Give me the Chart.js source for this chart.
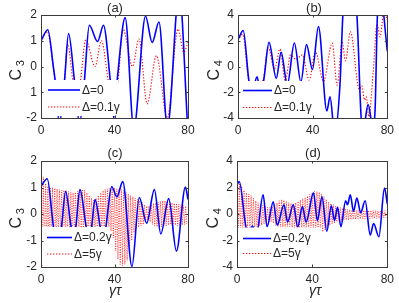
<!DOCTYPE html>
<html>
<head>
<meta charset="utf-8">
<script src="https://cdn.jsdelivr.net/npm/chart.js@4.4.1/dist/chart.umd.min.js"></script>
<style>
  html, body { margin: 0; padding: 0; background: #fff; }
  #wrap { position: relative; width: 399px; height: 303px; overflow: hidden; }
  canvas { position: absolute; }
</style>
</head>
<body>
<div id="wrap">
  <canvas id="pa" width="200" height="145" style="left:0;top:0"></canvas>
  <canvas id="pb" width="199" height="145" style="left:200px;top:0"></canvas>
  <canvas id="pc" width="200" height="158" style="left:0;top:145px"></canvas>
  <canvas id="pd" width="199" height="158" style="left:200px;top:145px"></canvas>
</div>
<script>
// axis ticks
const xTicks = [0, 40, 80]
const yTicks3 = [-2, -1, 0, 1, 2]
const yTicks4 = [-4, -2, 0, 2, 4]
const yLabelsA = ["-2", "1", "0", "1", "2"]
const yLabelsC = ["-2", "-1", "0", "1", "2"]
const yLabels4 = ["-4", "-2", "0", "2", "4"]

// (a) C3, Δ=0 (blue) and Δ=0.1γ (red)
const tA0 = [0, 3.7, 6.7, 7.7, 10, 12.8, 15, 18.2, 21, 23.6, 26.3, 30.8, 34, 37.7, 39.6, 41.6, 45.8, 50.5, 56.9, 60.5, 64.2, 68.8, 75.2, 80]
const cA0 = [1.0, 1.43, 0.0, -0.55, -2.2, -0.55, 1.28, -0.55, -2.2, -0.55, 1.6, 0.97, 1.6, -0.55, -2.0, -0.43, 1.9, -2.4, 1.95, 0.93, 1.73, -2.35, 2.9, -2.6]
const tA1 = [0, 3.5, 6.8, 7.6, 10, 12.8, 14.5, 17.3, 19.5, 21.5, 24.4, 29.4, 32.9, 36.6, 39.2, 42, 44.6, 49.8, 53.3, 57.8, 62.8, 68.7, 74.6, 77.7, 80]
const cA1 = [1.0, 1.35, -0.1, -0.55, -1.8, -0.5, 0.88, -0.55, -1.4, -0.55, 1.04, 0.0, 1.0, -0.55, -1.5, -0.5, 1.45, 0.0, 1.07, -1.45, 0.42, -2.0, 1.45, 0.55, 0.95]

// (b) C4, Δ=0 (blue) and Δ=0.1γ (red)
const tB0 = [0, 2.8, 5.8, 7.6, 10.2, 12, 13.8, 16.6, 20.5, 23.1, 26.4, 30.2, 33.7, 36.7, 39.9, 43.1, 47.6, 49.3, 51.8, 54.6, 56.3, 60, 63.7, 66, 67.2, 69.7, 72.2, 73.4, 74.7, 76.3, 80]
const cB0 = [2.08, 2.8, -1.05, -2.0, -0.8, -2.0, -1.05, 1.87, -0.92, 1.1, -1.4, 1.82, -1.2, 1.7, -0.23, 3.1, -3.45, -2.35, -5.2, -1.5, 4.3, 7.0, 4.0, -4.0, -4.8, -2.95, -4.6, -3.5, 4.0, 5.6, 1.2]
const tB1 = [0, 2.5, 5.6, 7.5, 10.5, 13.5, 16.2, 19.5, 22.5, 25.3, 28.2, 31, 34.5, 38.1, 41.5, 45.8, 50.5, 53.1, 55.8, 57.6, 60.2, 65, 66.3, 67.8, 68.7, 70.1, 72.4, 74.5, 76.1, 78.2, 80]
const cB1 = [2.05, 2.5, -1.0, -1.8, -1.5, -1.0, 1.45, -0.2, 1.36, -1.1, 0.9, 0.55, 0.9, -1.05, 1.1, -1.15, 1.82, -1.46, 1.9, 0.45, 2.7, -1.77, -1.5, -2.6, -2.35, -3.9, -0.5, 3.3, 2.3, 4.3, 3.6]

// (c) C3, Δ=0.2γ (blue); Δ=5γ (red) given as upper/lower swing of each fast cycle
const tC0 = [0, 3.4, 6.7, 9, 11.2, 13.4, 16.3, 17.7, 19, 21.2, 24.5, 26, 27.6, 29.4, 32.1, 33.8, 35.4, 38.5, 41.3, 44.5, 49.5, 53.5, 57.5, 61.7, 65.2, 69.5, 73.7, 78.6, 80]
const cC0 = [1.05, 1.33, -0.45, -1.3, -0.45, 0.85, -0.45, -1.0, -0.45, 0.92, -0.45, -1.0, -0.45, 0.55, -0.45, -1.2, -0.45, 1.03, 0.65, 1.22, -1.98, 0.62, -0.35, 0.92, -0.75, 0.58, -1.4, 1.02, 0.55]
const fastPeriod = 1.25
const hiC = [1.5, 1.4, 1.15, 1.05, 1.0, 1.0, 0.98, 0.95, 0.92, 0.9,
  0.9, 0.88, 0.85, 0.82, 0.8, 0.82, 0.86, 0.9, 0.93, 0.9,
  0.8, 0.7, 0.6, 0.55, 0.6, 0.7, 0.8, 0.88, 0.92, 0.95,
  0.98, 1.0, 0.98, 0.95, 0.95, 0.92, 0.88, 0.82, 0.75, 0.7,
  0.65, 0.6, 0.55, 0.5, 0.45, 0.35, 0.3, 0.3, 0.35, 0.4,
  0.42, 0.45, 0.48, 0.5, 0.5, 0.48, 0.45, 0.42, 0.4, 0.4,
  0.38, 0.35, 0.32, 0.3]
const loC = [-1.95, -1.7, -1.3, -1.1, -1.0, -0.95, -0.9, -0.85, -0.8, -0.8,
  -0.8, -0.78, -0.75, -0.75, -0.72, -0.72, -0.7, -0.7, -0.7, -0.7,
  -0.7, -0.7, -0.7, -0.7, -0.7, -0.7, -0.7, -0.7, -0.7, -0.7,
  -0.65, -0.9, -1.4, -1.7, -1.9, -1.95, -1.9, -1.75, -1.4, -1.0,
  -0.7, -0.55, -0.5, -0.45, -0.4, -0.3, -0.25, -0.3, -0.4, -0.45,
  -0.48, -0.5, -0.48, -0.45, -0.45, -0.42, -0.4, -0.4, -0.42, -0.45,
  -0.45, -0.42, -0.4, -0.38]

// (d) C4, Δ=0.2γ (blue); Δ=5γ (red)
const tD0 = [0, 1.2, 4.8, 6.5, 8.2, 10.3, 13.9, 16, 19.3, 21.4, 25, 26.9, 30, 32.3, 34.8, 36.8, 40.7, 42.8, 45.2, 47.8, 50.2, 51.9, 53.5, 55.3, 57.8, 58.8, 60.3, 62, 63.8, 65.8, 68.2, 70.9, 72.7, 75.5, 78.5, 80]
const cD0 = [2.2, 2.45, -1.0, -1.3, -0.9, -1.6, 1.45, -0.96, 0.93, -0.85, 0.7, -0.6, 0.7, -0.98, 0.56, -0.6, 1.6, -0.5, 1.3, -1.3, 0.62, -0.5, 0.5, -0.95, 1.0, 0.7, 1.45, 0.2, 1.2, 0.1, 1.0, -1.58, -0.72, -1.72, 1.95, 0.75]
const hiD = [2.6, 2.4, 2.1, 1.8, 1.6, 1.5, 1.4, 1.2, 1.0, 0.85,
  0.75, 0.65, 0.55, 0.5, 0.5, 0.55, 0.7, 0.85, 1.0, 1.1,
  1.05, 0.95, 0.85, 0.8, 0.8, 0.85, 0.95, 1.05, 1.15, 1.25,
  1.35, 1.5, 1.6, 1.7, 1.7, 1.65, 1.5, 1.3, 1.1, 0.9,
  0.8, 0.7, 0.6, 0.55, 0.5, 0.45, 0.4, 0.35, 0.32, 0.3,
  0.3, 0.3, 0.3, 0.28, 0.28, 0.28, 0.27, 0.27, 0.26, 0.26,
  0.25, 0.25, 0.25, 0.25]
const loD = [-1.6, -1.5, -1.4, -1.3, -1.2, -1.1, -1.05, -1.0, -0.95, -0.9,
  -0.85, -0.75, -0.65, -0.6, -0.6, -0.7, -0.85, -0.95, -1.0, -1.0,
  -1.0, -0.95, -0.95, -1.0, -1.05, -1.1, -1.15, -1.2, -1.25, -1.3,
  -1.35, -1.4, -1.45, -1.5, -1.5, -1.45, -1.35, -1.2, -1.0, -0.85,
  -0.75, -0.68, -0.6, -0.55, -0.5, -0.48, -0.45, -0.45, -0.42, -0.4,
  -0.4, -0.38, -0.38, -0.36, -0.36, -0.35, -0.35, -0.34, -0.33, -0.33,
  -0.32, -0.3, -0.3, -0.3]

const BLUE = "#0000ff"
const RED = "#ff0000"
const INK = "#262626"
const FONT = "'Liberation Sans', Arial, Helvetica, sans-serif"

function pts(xs, ys) {
  return xs.map((x, i) => ({ x: x, y: ys[i] }))
}

function fastPts(hi, lo) {
  const out = []
  hi.forEach((h, i) => {
    out.push({ x: i * fastPeriod, y: h })
    out.push({ x: i * fastPeriod + fastPeriod / 2, y: lo[i] })
  })
  return out
}

function drawYTitle(ctx, x, y, main, sub) {
  ctx.save()
  ctx.translate(x, y)
  ctx.rotate(-Math.PI / 2)
  ctx.fillStyle = INK
  ctx.textBaseline = "alphabetic"
  ctx.font = "16px " + FONT
  const w1 = ctx.measureText(main).width
  ctx.font = "11px " + FONT
  const w2 = ctx.measureText(sub).width
  const x0 = -(w1 + w2) / 2
  ctx.font = "16px " + FONT
  ctx.fillText(main, x0, 6)
  ctx.font = "11px " + FONT
  ctx.fillText(sub, x0 + w1, 9)
  ctx.restore()
}

function overlay(p) {
  const ox = p.offset[0], oy = p.offset[1]
  return {
    id: "overlay_" + p.id,
    afterDatasetsDraw(chart) {
      const ctx = chart.ctx
      const lg = p.legend
      ctx.save()
      ctx.fillStyle = "#fff"
      ctx.fillRect(lg.x1 - ox, lg.top - oy, lg.x2 - lg.x1, lg.bottom - lg.top)
      lg.items.forEach((it, i) => {
        ctx.beginPath()
        ctx.moveTo(lg.s1 - ox, it.y - oy)
        ctx.lineTo(lg.s2 - ox, it.y - oy)
        if (i === 0) {
          ctx.strokeStyle = BLUE
          ctx.lineWidth = 1.6
          ctx.setLineDash([])
        } else {
          ctx.strokeStyle = RED
          ctx.lineWidth = 1.1
          ctx.setLineDash([1.3, 1.7])
        }
        ctx.stroke()
        ctx.setLineDash([])
        ctx.fillStyle = INK
        ctx.font = "12px " + FONT
        ctx.textBaseline = "middle"
        ctx.textAlign = "left"
        ctx.fillText(it.text, lg.tx - ox, it.y - oy + 0.5)
      })
      ctx.restore()
    },
    afterDraw(chart) {
      const ctx = chart.ctx
      const a = chart.chartArea
      const xs = chart.scales.x, ys = chart.scales.y
      ctx.save()
      ctx.strokeStyle = "#3a3a3a"
      ctx.lineWidth = 1
      ctx.strokeRect(Math.round(a.left) + 0.5, Math.round(a.top) + 0.5, Math.round(a.right - a.left), Math.round(a.bottom - a.top))
      ctx.beginPath()
      const tl = 2.5
      xTicks.forEach(v => {
        const px = Math.round(xs.getPixelForValue(v)) + 0.5
        ctx.moveTo(px, a.bottom); ctx.lineTo(px, a.bottom - tl)
        ctx.moveTo(px, a.top); ctx.lineTo(px, a.top + tl)
      })
      p.yTicks.forEach(v => {
        const py = Math.round(ys.getPixelForValue(v)) + 0.5
        ctx.moveTo(a.left, py); ctx.lineTo(a.left + tl, py)
        ctx.moveTo(a.right, py); ctx.lineTo(a.right - tl, py)
      })
      ctx.stroke()

      ctx.fillStyle = INK
      ctx.font = "13px " + FONT
      ctx.textAlign = "center"
      ctx.textBaseline = "middle"
      ctx.fillText(p.title, p.titleX - ox, p.titleY - oy)
      drawYTitle(ctx, p.ylx - ox, p.yly - oy, "C", p.sub)
      if (p.xlabel) {
        ctx.font = "italic 14px " + FONT
        ctx.textAlign = "center"
        ctx.textBaseline = "middle"
        ctx.fillText(p.xlabel, p.xlx - ox, p.xly - oy)
      }
      ctx.restore()
    }
  }
}

function makePanel(p) {
  new Chart(document.getElementById(p.id), {
    type: "line",
    data: {
      datasets: [
        {
          data: p.blue,
          borderColor: BLUE,
          borderWidth: 1.6,
          pointRadius: 0,
          cubicInterpolationMode: "monotone",
          order: 0
        },
        {
          data: p.red,
          borderColor: p.fast ? "rgba(255,0,0,0.85)" : RED,
          borderWidth: p.fast ? 0.9 : 1.1,
          borderDash: p.fast ? [1, 1.4] : [1.3, 1.7],
          pointRadius: 0,
          cubicInterpolationMode: p.fast ? "default" : "monotone",
          tension: 0,
          order: 1
        }
      ]
    },
    options: {
      responsive: false,
      animation: false,
      events: [],
      layout: { padding: { left: 0, top: p.area.top, right: p.area.right, bottom: 0 } },
      plugins: { legend: { display: false }, tooltip: { enabled: false } },
      scales: {
        x: {
          type: "linear",
          min: 0,
          max: 80,
          afterBuildTicks: (s) => { s.ticks = xTicks.map(v => ({ value: v })) },
          afterFit: (s) => { s.height = p.area.xh },
          grid: { display: false, drawTicks: false },
          border: { display: false },
          ticks: { padding: 5, color: INK, font: { family: FONT, size: 12 }, maxRotation: 0, callback: (v) => String(v) }
        },
        y: {
          type: "linear",
          min: p.yTicks[0],
          max: p.yTicks[p.yTicks.length - 1],
          afterBuildTicks: (s) => { s.ticks = p.yTicks.map(v => ({ value: v })) },
          afterFit: (s) => { s.width = p.area.left },
          grid: { display: false, drawTicks: false },
          border: { display: false },
          ticks: { padding: 4, color: INK, font: { family: FONT, size: 12 }, callback: (v, i) => p.yLabels[i] }
        }
      }
    },
    plugins: [overlay(p)]
  })
}

makePanel({
  id: "pa", offset: [0, 0],
  area: { left: 41, top: 15, right: 12, xh: 27 },
  yTicks: yTicks3, yLabels: yLabelsA,
  blue: pts(tA0, cA0), red: pts(tA1, cA1), fast: false,
  title: "(a)", titleX: 115, titleY: 8,
  sub: "3", ylx: 15, yly: 66,
  legend: { x1: 42, x2: 118, top: 80, bottom: 116, s1: 48, s2: 80, tx: 82,
    items: [{ y: 90, text: "Δ=0" }, { y: 107, text: "Δ=0.1γ" }] }
})

makePanel({
  id: "pb", offset: [200, 0],
  area: { left: 38, top: 15, right: 10, xh: 27 },
  yTicks: yTicks4, yLabels: yLabels4,
  blue: pts(tB0, cB0), red: pts(tB1, cB1), fast: false,
  title: "(b)", titleX: 314, titleY: 8,
  sub: "4", ylx: 213, yly: 66,
  legend: { x1: 239, x2: 322, top: 81, bottom: 116, s1: 243, s2: 272, tx: 274,
    items: [{ y: 90.5, text: "Δ=0" }, { y: 107.5, text: "Δ=0.1γ" }] }
})

makePanel({
  id: "pc", offset: [0, 145],
  area: { left: 41, top: 16, right: 12, xh: 36 },
  yTicks: yTicks3, yLabels: yLabelsC,
  blue: pts(tC0, cC0), red: fastPts(hiC, loC), fast: true,
  title: "(c)", titleX: 115, titleY: 153,
  sub: "3", ylx: 15, yly: 214,
  xlabel: "γτ", xlx: 115, xly: 291,
  legend: { x1: 42, x2: 110, top: 227, bottom: 265, s1: 47, s2: 72, tx: 74,
    items: [{ y: 237.5, text: "Δ=0.2γ" }, { y: 254, text: "Δ=5γ" }] }
})

makePanel({
  id: "pd", offset: [200, 145],
  area: { left: 37, top: 16, right: 11, xh: 36 },
  yTicks: yTicks4, yLabels: yLabels4,
  blue: pts(tD0, cD0), red: fastPts(hiD, loD), fast: true,
  title: "(d)", titleX: 313, titleY: 153,
  sub: "4", ylx: 212, yly: 214,
  xlabel: "γτ", xlx: 315, xly: 291,
  legend: { x1: 238, x2: 322, top: 227.5, bottom: 265, s1: 243, s2: 271, tx: 273,
    items: [{ y: 238.5, text: "Δ=0.2γ" }, { y: 253.5, text: "Δ=5γ" }] }
})
</script>
</body>
</html>
